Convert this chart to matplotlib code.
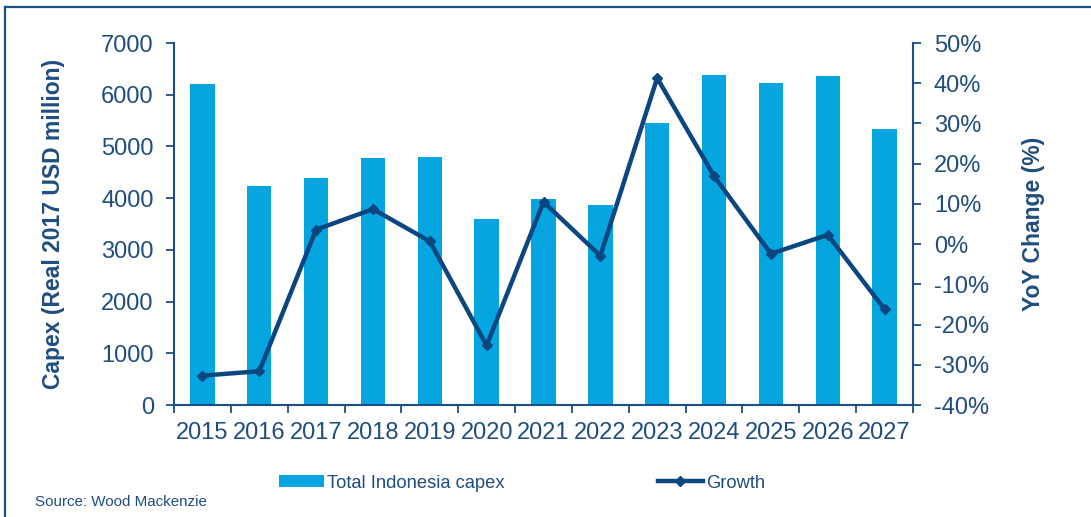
import matplotlib
matplotlib.use("Agg")
import matplotlib.pyplot as plt
from matplotlib.lines import Line2D
from matplotlib.patches import Patch
from matplotlib.ticker import FuncFormatter, FixedLocator
import numpy as np

plt.rcParams["font.family"] = ["Liberation Sans", "DejaVu Sans"]
plt.rcParams["axes.unicode_minus"] = False

years = ["2015", "2016", "2017", "2018", "2019", "2020", "2021",
         "2022", "2023", "2024", "2025", "2026", "2027"]
capex = [6200, 4240, 4390, 4775, 4805, 3595, 3975,
         3865, 5460, 6385, 6230, 6370, 5340]
growth = [-32.7, -31.6, 3.6, 8.7, 0.7, -25.2, 10.5,
          -2.9, 41.3, 16.9, -2.4, 2.3, -16.2]

bar_color = "#05A5E0"
line_color = "#0B4680"
axis_color = "#1B4F86"
text_color = "#1F4E7E"

fig = plt.figure(figsize=(10.91, 5.17), dpi=100)
ax = fig.add_axes([174 / 1091, 1 - 405 / 517, (913 - 174) / 1091, (405 - 43) / 517])
ax2 = ax.twinx()

x = np.arange(len(years))
ax.bar(x, capex, width=0.43, color=bar_color, zorder=2)
ax2.plot(x, growth, color=line_color, lw=3.2, marker="D", markersize=5,
         markerfacecolor=line_color, markeredgecolor=line_color, zorder=3)

ax.set_xlim(-0.5, len(years) - 0.5)
ax.set_ylim(0, 7000)
ax2.set_ylim(-40, 50)
ax.set_yticks(np.arange(0, 7001, 1000))
ax2.set_yticks(np.arange(-40, 51, 10))
ax2.yaxis.set_major_formatter(FuncFormatter(lambda v, p: f"{v:.0f}%"))

# category labels centred on bars, tick marks between categories
ax.xaxis.set_major_locator(FixedLocator(np.arange(-0.5, len(years), 1.0)))
ax.xaxis.set_major_formatter(FuncFormatter(lambda v, p: ""))
ax.xaxis.set_minor_locator(FixedLocator(x))
ax.set_xticklabels(years, minor=True)
ax.tick_params(axis="x", which="minor", length=0, pad=12,
               labelsize=17, labelcolor=text_color)
ax.tick_params(axis="x", which="major", length=6, width=1.3, color=axis_color)

for a in (ax, ax2):
    a.spines["top"].set_visible(False)
    for side in ("left", "right", "bottom"):
        a.spines[side].set_color(axis_color)
        a.spines[side].set_linewidth(1.5)
ax.spines["right"].set_visible(False)
ax2.spines["left"].set_visible(False)
ax2.spines["bottom"].set_visible(False)

ax.tick_params(axis="y", length=6, width=1.3, color=axis_color,
               labelsize=17, labelcolor=text_color, pad=8.5)
ax2.tick_params(axis="y", length=6, width=1.3, color=axis_color,
                labelsize=17, labelcolor=text_color, pad=9)

ax.set_ylabel("Capex (Real 2017 USD million)", fontsize=16.5, fontweight="bold",
              color=text_color)
ax2.set_ylabel("YoY Change (%)", fontsize=16.5, fontweight="bold",
               color=text_color)
ax.yaxis.set_label_coords(-0.1475, 0.5)
ax2.yaxis.set_label_coords(1.1475, 0.5)

handles = [Patch(facecolor=bar_color, edgecolor="none"),
           Line2D([], [], color=line_color, lw=3.2, marker="D", markersize=5)]
fig.legend(handles, ["Total Indonesia capex", "Growth"], loc="center",
           bbox_to_anchor=(522 / 1091, 1 - 483 / 517), ncol=2, frameon=False,
           fontsize=13.2, labelcolor=text_color, handlelength=2.46,
           handleheight=0.55, handletextpad=0.15, columnspacing=8.35)

fig.text(35 / 1091, 1 - 502 / 517, "Source: Wood Mackenzie", fontsize=10.9,
         color=text_color, va="center", ha="left")

# frame lines along the top and left edges
fig.add_artist(Line2D([5 / 1091, 1], [1 - 7 / 517, 1 - 7 / 517],
                      transform=fig.transFigure, color=axis_color, lw=1.6))
fig.add_artist(Line2D([5 / 1091, 5 / 1091], [0, 1 - 7 / 517],
                      transform=fig.transFigure, color=axis_color, lw=1.6))

fig.savefig("out.png", dpi=100)
